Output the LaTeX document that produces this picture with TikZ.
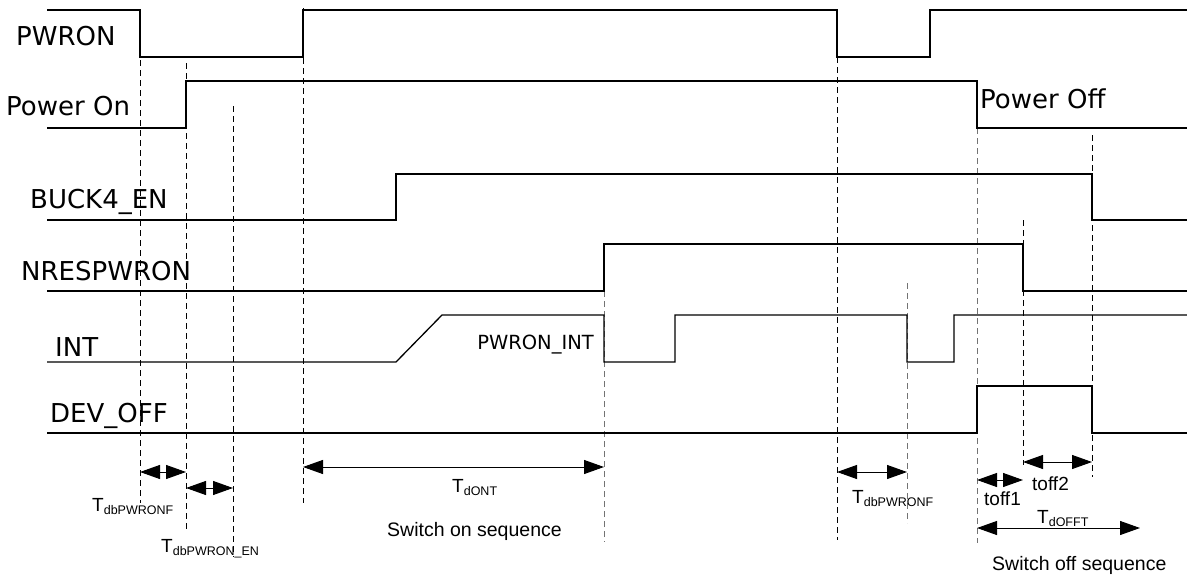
\documentclass[tikz,border=0pt]{standalone}
\usepackage{fontspec}
\setmainfont{DejaVu Sans}
\newfontfamily\arialfont{Liberation Sans}
\usetikzlibrary{arrows.meta}
\newcommand\tsym[1]{{\fontsize{19}{19}\selectfont T}\raisebox{-3pt}{\fontsize{12.5}{12.5}\selectfont #1}}
\begin{document}
\begin{tikzpicture}[x=1pt,y=-1pt,
  sig/.style={line width=1.3pt, black},
  vline/.style={line width=0.9pt, dash pattern=on 6pt off 4pt, black},
  gline/.style={vline, black!55},
  lbl/.style={inner sep=0pt, anchor=base west, font=\fontsize{26}{26}\selectfont},
  tlbl/.style={inner sep=0pt, anchor=base west, font=\arialfont\fontsize{19}{19}\selectfont},
  dimarrow/.style={line width=1pt, {Triangle[length=20pt,width=14pt]}-{Triangle[length=20pt,width=14pt]}}
]
\useasboundingbox (0,0) rectangle (1187,579);

% dashed reference lines
\draw[vline] (140,10) -- (140,503);
\draw[vline] (186,63) -- (186,530);
\draw[vline] (233,106) -- (233,557);
\draw[vline] (303,8) -- (303,503);
\draw[gline] (604,291) -- (604,542);
\draw[vline] (837,57) -- (837,540);
\draw[gline] (907,283) -- (907,523);
\draw[gline] (977,128) -- (977,543);
\draw[vline] (1023,220) -- (1023,465);
\draw[vline] (1092,135) -- (1092,477);

% signals
\draw[sig] (47,10) -| (140,57) -| (303,10) -| (837,57) -| (930,10) -- (1187,10);
\draw[sig] (47,128) -| (186,81) -| (977,128) -- (1187,128);
\draw[sig] (47,220) -| (396,174) -| (1092,220) -- (1187,220);
\draw[sig] (47,291) -| (604,244) -| (1023,291) -- (1187,291);
\draw[sig] (47,362) -- (396,362) -- (442,315) -| (604,362) -| (675,315) -| (907,362) -| (954,315) -- (1187,315);
\draw[sig] (47,433) -| (977,386) -| (1092,433) -- (1187,433);

% signal names
\node[lbl] (pwron) at (16,45) {PWRON};
\node[lbl] (poweron) at (6,115) {Power On};
\node[lbl] (buck) at (30,208) {BUCK4\_EN};
\node[lbl] (nresp) at (21,280) {NRESPWRON};
\node[lbl] (int) at (55,356) {INT};
\node[lbl] (devoff) at (50,422) {DEV\_OFF};
\node[lbl] (poweroff) at (980,108) {Power Off};
\node[inner sep=0pt, anchor=base east, font=\fontsize{19.5}{19.5}\selectfont] (pwronint) at (594,349) {PWRON\_INT};

% dimension arrows
\coordinate (a1s) at (140,472); \coordinate (a1e) at (186,472);
\coordinate (a2s) at (186,488); \coordinate (a2e) at (233,488);
\coordinate (a3s) at (303,467); \coordinate (a3e) at (604,467);
\coordinate (a4s) at (837,472); \coordinate (a4e) at (907,472);
\coordinate (a5s) at (977,480); \coordinate (a5e) at (1023,480);
\coordinate (a6s) at (1023,462); \coordinate (a6e) at (1092,462);
\coordinate (a7s) at (977,528); \coordinate (a7e) at (1140,528);
\draw[dimarrow] (a1s) -- (a1e);
\draw[dimarrow] (a2s) -- (a2e);
\draw[dimarrow] (a3s) -- (a3e);
\draw[dimarrow] (a4s) -- (a4e);
\draw[dimarrow] (a5s) -- (a5e);
\draw[dimarrow] (a6s) -- (a6e);
\draw[dimarrow] (a7s) -- (a7e);

% timing labels
\node[tlbl] (t1) at (92,511) {\tsym{dbPWRONF}};
\node[tlbl] (t2) at (161,552) {\tsym{dbPWRON\_EN}};
\node[tlbl] (t3) at (452,492) {\tsym{dONT}};
\node[tlbl] (t4) at (852,503) {\tsym{dbPWRONF}};
\node[tlbl] (t5) at (984,505) {toff1};
\node[tlbl] (t6) at (1032,490) {toff2};
\node[tlbl] (t7) at (1037,523) {\tsym{dOFFT}};
\node[tlbl, font=\arialfont\fontsize{19.5}{19.5}\selectfont] (son) at (387,536) {Switch on sequence};
\node[tlbl, font=\arialfont\fontsize{19.5}{19.5}\selectfont] (soff) at (992,570) {Switch off sequence};
\end{tikzpicture}
\end{document}
